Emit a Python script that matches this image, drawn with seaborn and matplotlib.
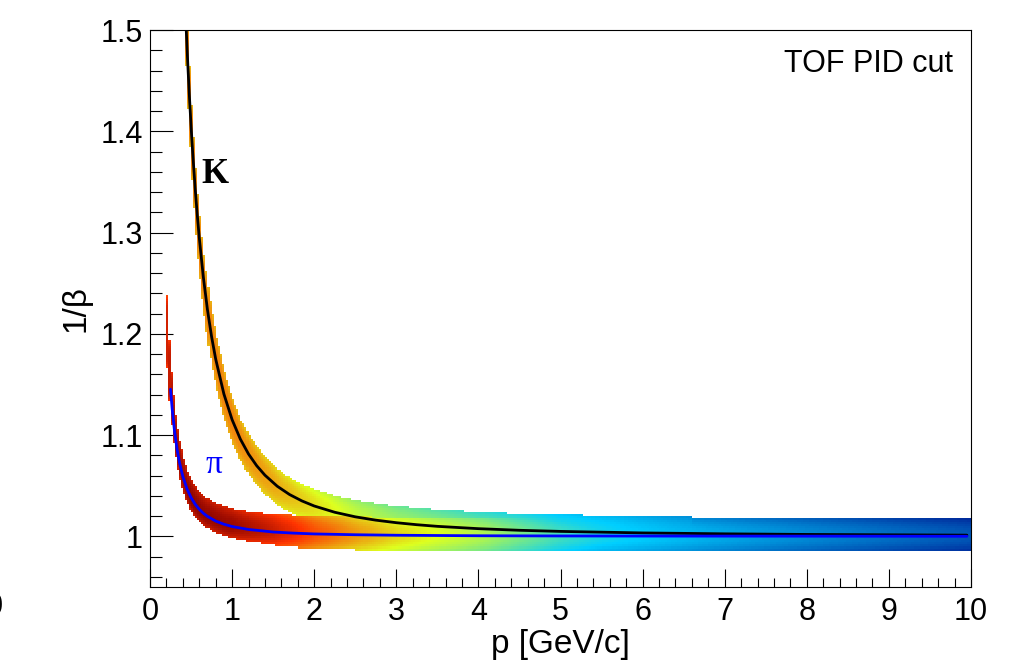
import numpy as np
import pandas as pd
import matplotlib
matplotlib.use("Agg")
import matplotlib.pyplot as plt
from matplotlib.colors import LinearSegmentedColormap
import seaborn as sns

# ---------------- data ----------------
# expected 1/beta of pions (momentum in GeV/c)
pion_p = [0.20, 0.21, 0.22, 0.23, 0.24, 0.25, 0.27, 0.30, 0.33, 0.36, 0.40, 0.45,
          0.50, 0.55, 0.60, 0.65, 0.70, 0.80, 0.90, 1.0, 1.2, 1.5, 1.75, 2.0,
          2.5, 3.0, 4.0, 5.0, 6.0, 8.0, 9.95]
pion_inv_beta = [1.2195, 1.2008, 1.1843, 1.1698, 1.1569, 1.1453, 1.1258, 1.1030,
                 1.0858, 1.0726, 1.0592, 1.0470, 1.0383, 1.0317, 1.0267, 1.0228,
                 1.0197, 1.0151, 1.0120, 1.0097, 1.0068, 1.0043, 1.0032, 1.0024,
                 1.0016, 1.0011, 1.0006, 1.0004, 1.0003, 1.0002, 1.0001]
# expected 1/beta of kaons
kaon_p = [0.40, 0.42, 0.44, 0.46, 0.48, 0.50, 0.52, 0.55, 0.575, 0.60, 0.65, 0.70,
          0.75, 0.80, 0.90, 1.0, 1.1, 1.2, 1.3, 1.4, 1.55, 1.7, 1.85, 2.0, 2.25,
          2.5, 2.75, 3.0, 3.25, 3.5, 4.0, 4.5, 5.0, 6.0, 7.0, 8.0, 9.95]
kaon_inv_beta = [1.5881, 1.5433, 1.5030, 1.4669, 1.4345, 1.4053, 1.3789, 1.3438,
                 1.3180, 1.2950, 1.2558, 1.2237, 1.1972, 1.1751, 1.1406, 1.1152,
                 1.0961, 1.0813, 1.0697, 1.0604, 1.0495, 1.0413, 1.0350, 1.0300,
                 1.0238, 1.0193, 1.0160, 1.0135, 1.0115, 1.0099, 1.0076, 1.0060,
                 1.0049, 1.0034, 1.0025, 1.0019, 1.0012]
pion_line_start = 0.25      # blue line begins here
kaon_line_start = 0.42      # black line begins here (clipped at the top)
pion_band_start = 0.20      # pion band begins here
kaon_band_end = 6.6         # kaon band no longer sticks out above this

# PID cut window around the expected value
pion_cut_above = 0.0176
cut_p = [0.2, 0.4, 0.8, 1.2, 1.8, 3.0, 10.0]
pion_cut_below = [0.0115, 0.0115, 0.0115, 0.012, 0.014, 0.015, 0.015]
kaon_cut_above = [0.020, 0.020, 0.022, 0.018, 0.0165, 0.0165, 0.0165]
kaon_cut_below = [0.020, 0.020, 0.022, 0.018, 0.0170, 0.0170, 0.0170]

# colour level (log-count, 0..1 on the palette) along the band centres
level_p = [0.2, 0.3, 0.5, 1.0, 1.5, 2.0, 2.5, 3.0, 3.5, 4.0, 4.5, 5.0, 5.5, 6.0,
           6.5, 7.0, 8.0, 9.0, 10.0]
pion_level = [0.89, 0.95, 0.98, 0.97, 0.91, 0.81, 0.73, 0.66, 0.61, 0.56, 0.49,
              0.42, 0.37, 0.34, 0.31, 0.28, 0.23, 0.185, 0.145]
kaon_level = [0.75, 0.75, 0.75, 0.75, 0.71, 0.65, 0.58, 0.53, 0.50, 0.46, 0.43,
              0.39, 0.36, 0.33, 0.30, 0.27, 0.22, 0.175, 0.135]
edge_drop_pion = 0.08
edge_drop_kaon = 0.06

# ROOT "pretty" palette stops
pal_stops = [0.00, 0.34, 0.61, 0.84, 1.00]
pal_red = [0.00, 0.00, 0.87, 1.00, 0.51]
pal_green = [0.00, 0.81, 1.00, 0.20, 0.00]
pal_blue = [0.51, 1.00, 0.12, 0.00, 0.00]

x_ticks = [0, 1, 2, 3, 4, 5, 6, 7, 8, 9, 10]
y_ticks = [1.0, 1.1, 1.2, 1.3, 1.4, 1.5]
y_tick_labels = ["1", "1.1", "1.2", "1.3", "1.4", "1.5"]

# ---------------- histogram cells ----------------
p_bw, v_bw = 0.025, 0.002
p_left = np.arange(0, 10 - 1e-9, p_bw)
pc = p_left + p_bw / 2
vc = np.arange(0.95 + v_bw / 2, 1.5, v_bw)
P, V = np.meshgrid(pc, vc, indexing="ij")
PL, _ = np.meshgrid(p_left, vc, indexing="ij")


def band_level(curve_p, curve_v, lev, drop, above, below):
    c_hi = np.interp(PL, curve_p, curve_v)          # curve at left bin edge
    c_lo = np.interp(PL + p_bw, curve_p, curve_v)   # curve at right bin edge
    d = np.where(V > c_hi, V - c_hi, np.where(V < c_lo, V - c_lo, 0.0))
    inside = (d <= above) & (d >= -below)
    h = np.where(d >= 0, above, below)
    L = np.interp(P, level_p, lev) - drop * (d / h) ** 2
    return np.where(inside, L, 0.0)


Lpi = band_level(pion_p, pion_inv_beta, pion_level, edge_drop_pion,
                 pion_cut_above, np.interp(P, cut_p, pion_cut_below))
Lpi = np.where(P >= pion_band_start, Lpi, 0.0)
Lk = band_level(kaon_p, kaon_inv_beta, kaon_level, edge_drop_kaon,
                np.interp(P, cut_p, kaon_cut_above),
                np.interp(P, cut_p, kaon_cut_below))
Lk = np.where(P <= kaon_band_end, Lk, 0.0)
L = np.maximum(Lpi, Lk)

cells = pd.DataFrame({"p": P.ravel(), "ib": V.ravel(), "level": L.ravel()})
cells = cells[cells["level"] > 0]

palette = LinearSegmentedColormap("root_pretty", {
    "red": [(s, c, c) for s, c in zip(pal_stops, pal_red)],
    "green": [(s, c, c) for s, c in zip(pal_stops, pal_green)],
    "blue": [(s, c, c) for s, c in zip(pal_stops, pal_blue)],
})

# ---------------- figure ----------------
sns.set_style("ticks")
plt.rcParams["font.family"] = ["Liberation Sans", "DejaVu Sans"]
for k in ["text.color", "axes.labelcolor", "xtick.color", "ytick.color",
          "axes.edgecolor"]:
    plt.rcParams[k] = "black"

fig = plt.figure(figsize=(10.29, 6.67), dpi=100)
ax = fig.add_axes([150 / 1029, 1 - 587 / 667, 821 / 1029, 557 / 667])

sns.histplot(data=cells, x="p", y="ib", weights="level",
             binwidth=(p_bw, v_bw), binrange=((0, 10), (0.95, 1.5)),
             cmap=palette, vmin=0, vmax=1, cbar=False, ax=ax)

pion_df = pd.DataFrame({"p": pion_p, "ib": pion_inv_beta})
pion_df = pion_df[pion_df["p"] >= pion_line_start]
kaon_df = pd.DataFrame({"p": kaon_p, "ib": kaon_inv_beta})
kaon_df = kaon_df[kaon_df["p"] >= kaon_line_start]
sns.lineplot(data=kaon_df, x="p", y="ib", color="black", lw=2.0, sort=False,
             estimator=None, ax=ax, zorder=5)
sns.lineplot(data=pion_df, x="p", y="ib", color="#0000ff", lw=2.0, sort=False,
             estimator=None, ax=ax, zorder=6)

ax.set_xlim(0, 10)
ax.set_ylim(0.95, 1.5)
ax.set_xticks(x_ticks)
ax.set_xticklabels([str(t) for t in x_ticks])
ax.set_yticks(y_ticks)
ax.set_yticklabels(y_tick_labels)
ax.set_xticks(np.arange(0, 10.001, 0.2), minor=True)
ax.set_yticks(np.arange(0.96, 1.5001, 0.02), minor=True)
ax.tick_params(axis="x", which="major", direction="in", length=13, width=0.8,
               labelsize=22, pad=7, top=False, color="black")
ax.tick_params(axis="x", which="minor", direction="in", length=6.5, width=0.8,
               top=False, color="black")
ax.tick_params(axis="y", which="major", direction="in", length=16.5, width=0.8,
               labelsize=22, pad=5, right=False, color="black")
ax.tick_params(axis="y", which="minor", direction="in", length=8.3, width=0.8,
               right=False, color="black")
for s in ax.spines.values():
    s.set_visible(True)
    s.set_linewidth(0.8)
    s.set_color("black")

ax.set_xlabel("p [GeV/c]", fontsize=24)
ax.xaxis.set_label_coords(0.5, -0.0754)
ax.xaxis.label.set_va("top")
ax.set_ylabel("1/β", fontsize=24)
ax.yaxis.set_label_coords(-0.071, 0.5)

ax.text(0.978, 0.939, "TOF PID cut", transform=ax.transAxes, ha="right",
        va="center", fontsize=22)
ax.text(0.629, 1.3494, "K", fontsize=25, fontweight="bold",
        family=["Liberation Serif", "DejaVu Serif"], color="black",
        ha="left", va="baseline", zorder=7)
ax.text(0.682, 1.0628, "π", fontsize=24,
        family=["Liberation Serif", "DejaVu Serif"], color="#0000ff",
        ha="left", va="baseline", zorder=7)
# clipped label remnant at the left edge of the canvas
fig.text(-0.0135, 1 - 607 / 667, "0", fontsize=22, ha="left", va="center")

fig.savefig("out.png", dpi=100)
